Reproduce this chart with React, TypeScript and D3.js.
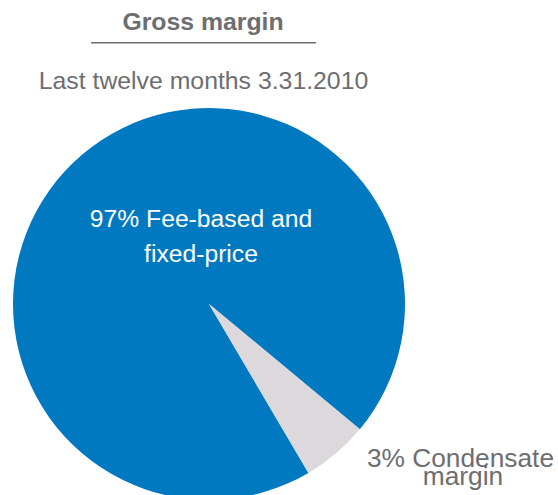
import React from "react";
import * as d3 from "d3";

const categories = ["Fee-based and fixed-price", "Condensate margin"];
const shares = [94.5, 5.5]; // visual slice shares as drawn
const labelLines = [["97% Fee-based and", "fixed-price"], ["3% Condensate", "margin"]];
const colors = ["#0079c1", "#dcd8dc"];

const W = 558;
const H = 495;
const cx = 209;
const cy = 304;
const R = 196;
const FONT = "'Liberation Sans', Arial, Helvetica, sans-serif";
const GREY = "#6d6e71";

export default function App() {
  const pie = d3
    .pie<number>()
    .sort(null)
    .startAngle((-210.5 * Math.PI) / 180)
    .endAngle(((360 - 210.5) * Math.PI) / 180);
  const arcs = pie(shares);
  const arc = d3.arc<d3.PieArcDatum<number>>().innerRadius(0).outerRadius(R);

  return (
    <svg
      width={W}
      height={H}
      style={{ position: "absolute", left: 0, top: 0, background: "#fff" }}
    >
      <text x={203} y={30} textAnchor="middle" fontFamily={FONT} fontWeight="bold" fontSize={24.8} fill={GREY}>
        Gross margin
      </text>
      <line x1={91} x2={316} y1={42.7} y2={42.7} stroke={GREY} strokeWidth={1.5} />
      <text x={203.5} y={89} textAnchor="middle" fontFamily={FONT} fontSize={24.8} fill={GREY}>
        Last twelve months 3.31.2010
      </text>
      <g transform={`translate(${cx},${cy})`}>
        {arcs.map((a, i) => (
          <path key={categories[i]} d={arc(a) || ""} fill={colors[i]} />
        ))}
      </g>
      <text textAnchor="middle" fontFamily={FONT} fontSize={24.7} fill="#ffffff">
        <tspan x={201} y={227}>{labelLines[0][0]}</tspan>
        <tspan x={201} y={262}>{labelLines[0][1]}</tspan>
      </text>
      <text textAnchor="middle" fontFamily={FONT} fontSize={26.3} fill={GREY}>
        <tspan x={460.5} y={467}>{labelLines[1][0]}</tspan>
        <tspan x={463} y={485}>{labelLines[1][1]}</tspan>
      </text>
    </svg>
  );
}
